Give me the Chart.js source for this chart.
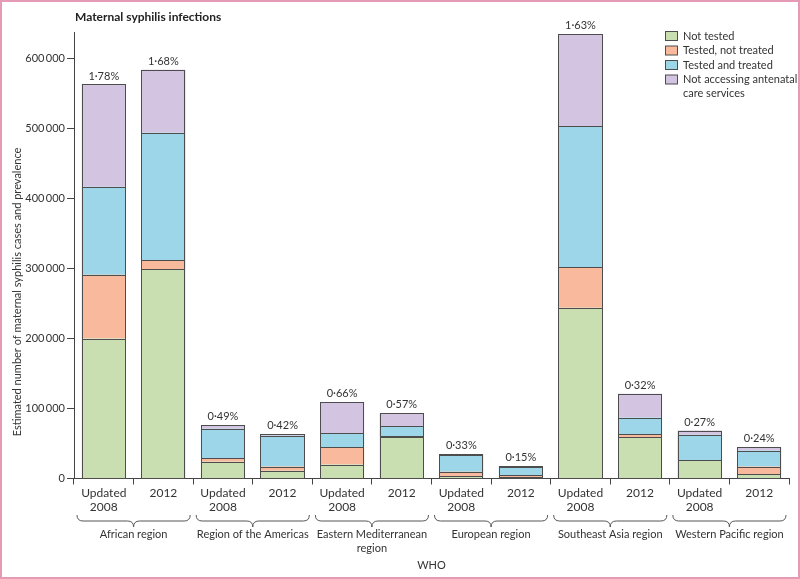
<!DOCTYPE html>
<html>
<head>
<meta charset="utf-8">
<script src="https://cdn.jsdelivr.net/npm/chart.js@4.4.0/dist/chart.umd.min.js"></script>
<style>
  body { margin: 0; background: #fff; }
  #wrap { width: 800px; height: 579px; position: relative; }
</style>
</head>
<body>
<div id="wrap"><canvas id="chart" width="800" height="579"></canvas></div>
<script>
// Données (nombre de cas, par barre)
const barLabels = [["Updated", "2008"], "2012", ["Updated", "2008"], "2012", ["Updated", "2008"], "2012",
                   ["Updated", "2008"], "2012", ["Updated", "2008"], "2012", ["Updated", "2008"], "2012"];
const regions = ["African region", "Region of the Americas", ["Eastern Mediterranean", "region"],
                 "European region", "Southeast Asia region", "Western Pacific region"];
const notTested        = [200000, 299000, 24000, 11000, 20000, 59000, 3500, 2000, 244000, 59000, 26000, 6500];
const testedNotTreated = [91000, 13000, 5000, 6000, 25000, 1500, 6000, 3000, 58000, 4000, 500, 10500];
const testedTreated    = [126000, 182000, 42000, 44000, 19500, 14500, 24000, 11500, 201000, 24000, 36000, 23000];
const notAccessing     = [146000, 90000, 5000, 2000, 44500, 18000, 1500, 1500, 132000, 34000, 6000, 5000];
const prevalence = ["1·78%", "1·68%", "0·49%", "0·42%", "0·66%", "0·57%", "0·33%", "0·15%", "1·63%", "0·32%", "0·27%", "0·24%"];
const yTicks = [0, 100000, 200000, 300000, 400000, 500000, 600000];

const FONT = "Lato, 'Open Sans', sans-serif";
const TXT = '#333';
const EDGE = '#4d4d4d';

function fmt(v) {
    return String(v).replace(/\B(?=(\d{3})+(?!\d))/g, '\u2009');
}

function serie(label, data, color) {
    return { label: label, data: data, backgroundColor: color, borderWidth: 0, inflateAmount: 0,
             categoryPercentage: 0.74, barPercentage: 1 };
}

// Plugin pour le titre, la légende, les pourcentages et les accolades des régions
const decor = {
    id: 'decor',
    afterDatasetsDraw(chart) {
        // contours nets des segments de barres
        const ctx = chart.ctx;
        ctx.save();
        ctx.strokeStyle = EDGE;
        ctx.lineWidth = 1;
        chart.data.datasets.forEach(function (ds, i) {
            chart.getDatasetMeta(i).data.forEach(function (bar) {
                const l = Math.round(bar.x - bar.width / 2) + 0.5;
                const r = Math.round(bar.x + bar.width / 2) - 0.5;
                const t = Math.round(bar.y) + 0.5;
                const b = Math.round(bar.base) + 0.5;
                ctx.strokeRect(l, t, r - l, Math.max(b - t, 0));
            });
        });
        ctx.restore();
    },
    afterDraw(chart) {
        const ctx = chart.ctx;
        const area = chart.chartArea;
        const x = chart.scales.x;
        ctx.save();

        // titre
        ctx.fillStyle = '#222';
        ctx.font = "bold 12px " + FONT;
        ctx.textAlign = 'left';
        ctx.textBaseline = 'middle';
        ctx.fillText("Maternal syphilis infections", area.left + 1, 17);

        // pourcentages au-dessus des barres
        const top = chart.getDatasetMeta(3);
        ctx.font = "11px " + FONT;
        ctx.fillStyle = TXT;
        ctx.textAlign = 'center';
        ctx.textBaseline = 'bottom';
        top.data.forEach(function (bar, i) {
            ctx.fillText(prevalence[i], bar.x, bar.y - 3);
        });

        // légende
        const rows = [["Not tested"], ["Tested, not treated"], ["Tested and treated"], ["Not accessing antenatal", "care services"]];
        let ly = 36;
        ctx.textAlign = 'left';
        ctx.textBaseline = 'middle';
        ctx.font = "11px " + FONT;
        chart.data.datasets.forEach(function (ds, i) {
            ctx.fillStyle = ds.backgroundColor;
            ctx.fillRect(665.5, ly - 4.5, 12, 9);
            ctx.strokeStyle = EDGE;
            ctx.lineWidth = 1;
            ctx.strokeRect(665.5, ly - 4.5, 12, 9);
            ctx.fillStyle = TXT;
            rows[i].forEach(function (t, j) {
                ctx.fillText(t, 683, ly + j * 14);
            });
            ly += 14.5;
        });

        // axe y : titre
        ctx.save();
        ctx.translate(17, 292);
        ctx.rotate(-Math.PI / 2);
        ctx.textAlign = 'center';
        ctx.textBaseline = 'middle';
        ctx.fillStyle = TXT;
        ctx.font = "11px " + FONT;
        ctx.fillText("Estimated number of maternal syphilis cases and prevalence", 0, 0);
        ctx.restore();

        // accolades et noms de régions
        const half = (x.getPixelForValue(1) - x.getPixelForValue(0)) / 2;
        ctx.strokeStyle = '#555';
        ctx.lineWidth = 1;
        const yTop = 515, yMid = 521, yTip = 527, r = 6;
        regions.forEach(function (name, k) {
            const x0 = x.getPixelForValue(2 * k) - half + 3;
            const x1 = x.getPixelForValue(2 * k + 1) + half - 3;
            const xm = (x0 + x1) / 2;
            ctx.beginPath();
            ctx.moveTo(x0, yTop);
            ctx.quadraticCurveTo(x0, yMid, x0 + r, yMid);
            ctx.lineTo(xm - r, yMid);
            ctx.quadraticCurveTo(xm, yMid, xm, yTip);
            ctx.quadraticCurveTo(xm, yMid, xm + r, yMid);
            ctx.lineTo(x1 - r, yMid);
            ctx.quadraticCurveTo(x1, yMid, x1, yTop);
            ctx.stroke();

            const lines = Array.isArray(name) ? name : [name];
            ctx.fillStyle = TXT;
            ctx.font = "11px " + FONT;
            ctx.textAlign = 'center';
            ctx.textBaseline = 'middle';
            lines.forEach(function (t, j) {
                ctx.fillText(t, xm, 534 + j * 14.5);
            });
        });

        // titre de l'axe x
        ctx.fillText("WHO", (area.left + area.right) / 2, 565);

        // cadre rose
        ctx.strokeStyle = '#e59ab5';
        ctx.lineWidth = 2;
        ctx.strokeRect(1, 1, 798, 577);
        ctx.restore();
    }
};

const config = {
    type: 'bar',
    data: {
        labels: barLabels,
        datasets: [
            serie("Not tested", notTested, '#cadfb1'),
            serie("Tested, not treated", testedNotTreated, '#f8b99d'),
            serie("Tested and treated", testedTreated, '#9dd6e8'),
            serie("Not accessing antenatal care services", notAccessing, '#d3c4e1')
        ]
    },
    options: {
        responsive: false,
        animation: false,
        devicePixelRatio: 1,
        layout: { padding: { top: 32, right: 11, left: 0, bottom: 0 } },
        plugins: { legend: { display: false }, title: { display: false }, tooltip: { enabled: false } },
        scales: {
            x: {
                stacked: true,
                grid: { offset: true, drawOnChartArea: false, tickLength: 6, color: '#444' },
                border: { color: '#444', width: 1 },
                ticks: { color: TXT, font: { family: FONT, size: 12 }, padding: 1, maxRotation: 0, autoSkip: false },
                afterFit: function (scale) { scale.height = 100.5; }
            },
            y: {
                stacked: true,
                min: 0,
                max: 638000,
                afterBuildTicks: function (scale) { scale.ticks = yTicks.map(function (v) { return { value: v }; }); },
                grid: { drawOnChartArea: false, tickLength: 7, color: '#444' },
                border: { color: '#444', width: 1 },
                ticks: { color: TXT, font: { family: FONT, size: 11 }, padding: 2,
                         callback: function (v) { return fmt(v); } },
                afterFit: function (scale) { scale.width = 74; }
            }
        }
    },
    plugins: [decor]
};

new Chart(document.getElementById('chart'), config);
</script>
</body>
</html>
